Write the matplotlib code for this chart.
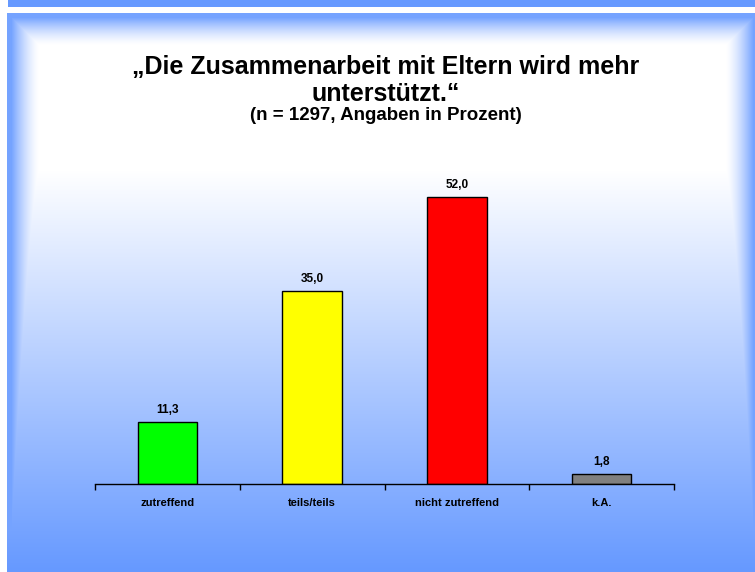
import matplotlib.pyplot as plt
import numpy as np
from matplotlib.ticker import FixedLocator, NullFormatter

# Daten
kategorien = ["zutreffend", "teils/teils", "nicht zutreffend", "k.A."]
prozent = [11.3, 35.0, 52.0, 1.8]
farben = ["#00ff00", "#ffff00", "#ff0000", "#808080"]
wert_labels = ["11,3", "35,0", "52,0", "1,8"]

titel_1 = "\u201eDie Zusammenarbeit mit Eltern wird mehr"
titel_2 = "unterst\u00fctzt.\u201c"
untertitel = "(n = 1297, Angaben in Prozent)"

W, H = 755, 572
blau = np.array([102, 153, 255]) / 255.0


def hintergrund():
	# weiss oben, blau nach unten und an den Raendern
	img = np.ones((H, W, 3))
	yy, xx = np.mgrid[0:H, 0:W].astype(float)
	t_vert = np.clip((yy - 170) / 400.0, 0, 1)
	d_links = xx - 7
	d_rechts = W + 2 - xx
	d_oben = yy - 13
	d = np.minimum(np.minimum(d_links, d_rechts), d_oben)
	t_rand = np.clip(1 - (d - 4) / 28.0, 0, 1) ** 1.5
	t = np.maximum(t_vert, t_rand * 0.9)
	panel = (1 - t[..., None]) + t[..., None] * blau
	maske = (yy >= 13) & (xx >= 7)
	img[maske] = panel[maske]
	# Balken oben
	band = (yy < 7) & (xx >= 8)
	img[band] = blau
	return img


fig = plt.figure(figsize=(W / 100, H / 100), dpi=100)
bg = fig.add_axes([0, 0, 1, 1])
bg.imshow(hintergrund(), extent=[0, W, H, 0], aspect="auto", interpolation="bilinear")
bg.set_axis_off()

plt.rcParams['font.family'] = ['Liberation Sans', 'DejaVu Sans']

fig.text(386 / W, 1 - 67 / H, titel_1, ha="center", va="center", fontsize=18, fontweight="bold")
fig.text(386 / W, 1 - 94 / H, titel_2, ha="center", va="center", fontsize=18, fontweight="bold")
fig.text(386 / W, 1 - 116 / H, untertitel, ha="center", va="center", fontsize=13.5,
	fontweight="bold")

ax = fig.add_axes([95 / W, 1 - 484 / H, 579 / W, 331 / H])
ax.patch.set_alpha(0)
x = np.arange(len(kategorien))
balken = ax.bar(x, prozent, width=0.41, color=farben, edgecolor="black", linewidth=1)
for xi, v, lab in zip(x, prozent, wert_labels):
	ax.text(xi, v + 1.1, lab, ha="center", va="bottom", fontsize=8.5, fontweight="bold")

ax.set_xlim(-0.5, len(kategorien) - 0.5)
ax.set_ylim(0, 60)
for s in ["top", "left", "right"]:
	ax.spines[s].set_visible(False)
ax.spines["bottom"].set_linewidth(1)
ax.set_yticks([])
ax.set_xticks(x)
ax.set_xticklabels(kategorien, fontsize=8, fontweight="bold")
ax.tick_params(axis="x", which="major", length=0, pad=10)
ax.xaxis.set_minor_locator(FixedLocator(np.arange(-0.5, len(kategorien), 1.0)))
ax.xaxis.set_minor_formatter(NullFormatter())
ax.tick_params(axis="x", which="minor", length=4, width=1, direction="out")

plt.savefig("out.png", dpi=100)
